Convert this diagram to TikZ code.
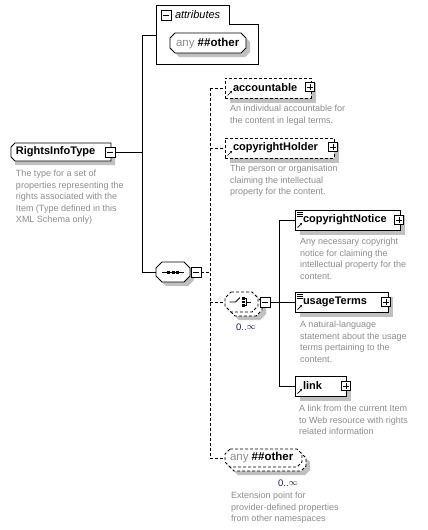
\documentclass[tikz,border=0pt]{standalone}
\usepackage{fontspec}
\setmainfont{Liberation Sans}
\usetikzlibrary{shadows,calc,arrows.meta}
\definecolor{desc}{RGB}{140,140,140}
\definecolor{shad}{RGB}{192,192,192}
\definecolor{mult}{RGB}{30,30,70}
\newcommand\octo[6][]{%
  \path[#1] (#2+#6,#3) -- (#4-#6,#3) -- (#4,#3+#6) -- (#4,#5-#6) -- (#4-#6,#5) -- (#2+#6,#5) -- (#2,#5-#6) -- (#2,#3+#6) -- cycle;}
\begin{document}
\begin{tikzpicture}[x=1pt,y=-1pt,
  every node/.style={inner sep=0pt, outer sep=0pt},
  line width=0.9pt,
  dsh/.style={dash pattern=on 3pt off 2pt},
  shd/.style={drop shadow={shadow xshift=5pt, shadow yshift=-5pt, fill=shad, opacity=1}},
  elem/.style={draw, fill=white, minimum height=20pt, anchor=north west, shd},
  optelem/.style={elem, dsh},
  ename/.style={font=\fontsize{11}{13}\selectfont\bfseries, anchor=west},
  dtext/.style={font=\fontsize{9}{11.5}\selectfont, text=desc, align=left, anchor=north west},
  mtext/.style={font=\fontsize{9.5}{11}\selectfont, text=mult},
  anytext/.style={anchor=west, font=\fontsize{11.5}{13}\selectfont},
  pbox/.style={draw, fill=white, minimum size=9pt, line width=0.8pt,
    path picture={\draw[line width=0.8pt] ([xshift=1.8pt]path picture bounding box.west) -- ([xshift=-1.8pt]path picture bounding box.east);
                  \draw[line width=0.8pt] ([yshift=-1.8pt]path picture bounding box.north) -- ([yshift=1.8pt]path picture bounding box.south);}},
  mbox/.style={draw, fill=white, minimum size=10pt, line width=0.8pt,
    path picture={\draw[line width=0.8pt] ([xshift=1.8pt]path picture bounding box.west) -- ([xshift=-1.8pt]path picture bounding box.east);}},
  refarrow/.style={line width=0.7pt, -{Stealth[length=2.2pt,width=2.4pt]}},
  ghost/.style={minimum width=#1, anchor=north west},
]
\useasboundingbox (0,0) rectangle (428,530);

% ---------- attributes box ----------
\path[draw] (156,5) -- (229,5) -- (229,24) -- (258,24) -- (258,64) -- (156,64) -- cycle;
\node[mbox, minimum size=10pt] (attminus) at (166,15) {};
\node[font=\fontsize{11}{13}\selectfont\itshape, anchor=west] (atttxt) at (175,15) {attributes};
\coordinate (attw) at (156,35);
\octo[fill=shad, shift={(4,4)}]{170}{33}{246}{53}{5}
\octo[draw, fill=white]{170}{33}{246}{53}{5}
\node[anytext] (anyatt) at (176,43.5) {\textcolor{desc}{any}\ \textbf{\#\#other}};

% ---------- RightsInfoType ----------
\octo[fill=shad, shift={(4,4)}]{11}{143}{111}{161}{0.01}
\path[draw, fill=white] (15,143) -- (111,143) -- (111,161) -- (15,161) -- (11,157) -- (11,147) -- cycle;
\node[ename] (rit) at (16,152) {RightsInfoType};
\node[mbox] (ritminus) at (110,152) {};
\node[dtext] (ritdesc) at (16,170) {The type for a set of\\properties representing the\\rights associated with the\\Item (Type defined in this\\XML Schema only)};

% ---------- main connectors ----------
\coordinate (vtop) at (142,35);
\coordinate (vbot) at (142,272);
\draw (ritminus.east) -- (ritminus.east -| vtop);
\draw (vtop) -- (vbot);
\draw (vtop) -- (attw);

% ---------- sequence ----------
\octo[fill=shad, shift={(4,4)}]{156}{262}{190}{282}{6}
\octo[draw, fill=white]{156}{262}{190}{282}{6}
\node[ghost=34pt, minimum height=20pt] (seq) at (156,262) {};
\draw[line width=0.8pt] ($(seq.center)+(-11,0)$) -- ($(seq.center)+(11,0)$);
\foreach \dx in {-4.5,0,4.5} \fill ($(seq.center)+(\dx-1.5,-1.5)$) rectangle ($(seq.center)+(\dx+1.5,1.5)$);
\node[mbox] (seqminus) at (196,272) {};
\draw (vbot) -- (seq.west);

% ---------- dashed trunk ----------
\coordinate (dtop) at (210,88);
\coordinate (dbot) at (210,458);
\draw[dsh] (seqminus.east) -- (seqminus.east -| dtop);
\draw[dsh] (dtop) -- (dbot);

% ---------- accountable ----------
\node[optelem, minimum width=86pt] (acc) at (225,78) {};
\node[ename] (acctxt) at ($(acc.west)+(8,0)$) {accountable};
\node[pbox] (accplus) at ($(acc.east)+(-1,-1)$) {};
\draw[refarrow] ($(acc.south west)+(2.5,-2.5)$) -- ++(4.5,-4.5);
\draw[dsh] (dtop) -- (acc.west);
\node[dtext] (accdesc) at (230,105) {An individual accountable for\\the content in legal terms.};

% ---------- copyrightHolder ----------
\node[optelem, minimum width=109pt] (ch) at (225,138) {};
\node[ename] (chtxt) at ($(ch.west)+(8,0)$) {copyrightHolder};
\node[pbox] (chplus) at ($(ch.east)+(-1,-1)$) {};
\draw[refarrow] ($(ch.south west)+(2.5,-2.5)$) -- ++(4.5,-4.5);
\draw[dsh] (ch.west -| dtop) -- (ch.west);
\node[dtext] (chdesc) at (230,165) {The person or organisation\\claiming the intellectual\\property for the content.};

% ---------- choice ----------
\octo[fill=shad, shift={(8,8)}]{225}{292}{258}{312}{6}
\octo[draw, dsh, fill=white, shift={(4,4)}]{225}{292}{258}{312}{6}
\octo[draw, dsh, fill=white]{225}{292}{258}{312}{6}
\node[ghost=33pt, minimum height=20pt] (cho) at (225,292) {};
\draw[line width=0.8pt] ($(cho.center)+(-12,0)$) -- ($(cho.center)+(-6,0)$) -- ($(cho.center)+(-1.5,-4.5)$);
\foreach \dy in {-3.5,0,3.5} \fill ($(cho.center)+(0.5,\dy-1.2)$) rectangle ($(cho.center)+(3,\dy+1.2)$);
\draw[line width=0.8pt] ($(cho.center)+(3,-3.5)$) -- ($(cho.center)+(5,-3.5)$) -- ($(cho.center)+(5,3.5)$) -- ($(cho.center)+(3,3.5)$);
\draw[line width=0.8pt] ($(cho.center)+(5,0)$) -- ($(cho.center)+(9,0)$);
\node[mbox] (chominus) at (265,302) {};
\draw[dsh] (cho.west -| dtop) -- (cho.west);
\node[mtext] (chomult) at (246,327) {0..\raisebox{0.2ex}{$\infty$}};

% ---------- choice children ----------
\coordinate (sv) at (279,220);
\node[elem, minimum width=105pt] (cn) at (295,210) {};
\node[ename] (cntxt) at ($(cn.west)+(8,0)$) {copyrightNotice};
\node[pbox] (cnplus) at ($(cn.east)+(-1,0)$) {};
\draw[refarrow] ($(cn.south west)+(2.5,-2.5)$) -- ++(4.5,-4.5);
\foreach \ly in {2,4,6} \draw[line width=0.7pt] ($(cn.north west)+(2,\ly)$) -- ++(6,0);
\node[dtext] (cndesc) at (300,238) {Any necessary copyright\\notice for claiming the\\intellectual property for the\\content.};

\node[elem, minimum width=93pt] (ut) at (295,292) {};
\node[ename] (uttxt) at ($(ut.west)+(8,0)$) {usageTerms};
\node[pbox] (utplus) at ($(ut.east)+(-2,0)$) {};
\draw[refarrow] ($(ut.south west)+(2.5,-2.5)$) -- ++(4.5,-4.5);
\foreach \ly in {2,4,6} \draw[line width=0.7pt] ($(ut.north west)+(2,\ly)$) -- ++(6,0);
\node[dtext] (utdesc) at (300,321) {A natural-language\\statement about the usage\\terms pertaining to the\\content.};

\node[elem, minimum width=51pt] (lk) at (295,376) {};
\node[ename] (lktxt) at ($(lk.west)+(8,0)$) {link};
\node[pbox] (lkplus) at ($(lk.east)+(0,0)$) {};
\draw[refarrow] ($(lk.south west)+(2.5,-2.5)$) -- ++(4.5,-4.5);
\node[dtext] (lkdesc) at (299,405) {A link from the current Item\\to Web resource with rights\\related information};

\draw (chominus.east) -- (ut.west);
\draw (cn.west -| sv) -- (lk.west -| sv);
\draw (cn.west -| sv) -- (cn.west);
\draw (lk.west -| sv) -- (lk.west);

% ---------- any ##other (elements) ----------
\octo[fill=shad, shift={(8,8)}]{225}{449}{302}{467}{5}
\octo[draw, dsh, fill=white, shift={(4,4)}]{225}{449}{302}{467}{5}
\octo[draw, dsh, fill=white]{225}{449}{302}{467}{5}
\node[ghost=77pt, minimum height=18pt] (anyb) at (225,449) {};
\node[anytext] (anybtxt) at (230,458) {\textcolor{desc}{any}\ \textbf{\#\#other}};
\draw[dsh] (dbot) -- (anyb.west);
\node[mtext] (anymult) at (288,483) {0..\raisebox{0.2ex}{$\infty$}};
\node[dtext] (anydesc) at (231,492) {Extension point for\\provider-defined properties\\from other namespaces};
\end{tikzpicture}
\end{document}
